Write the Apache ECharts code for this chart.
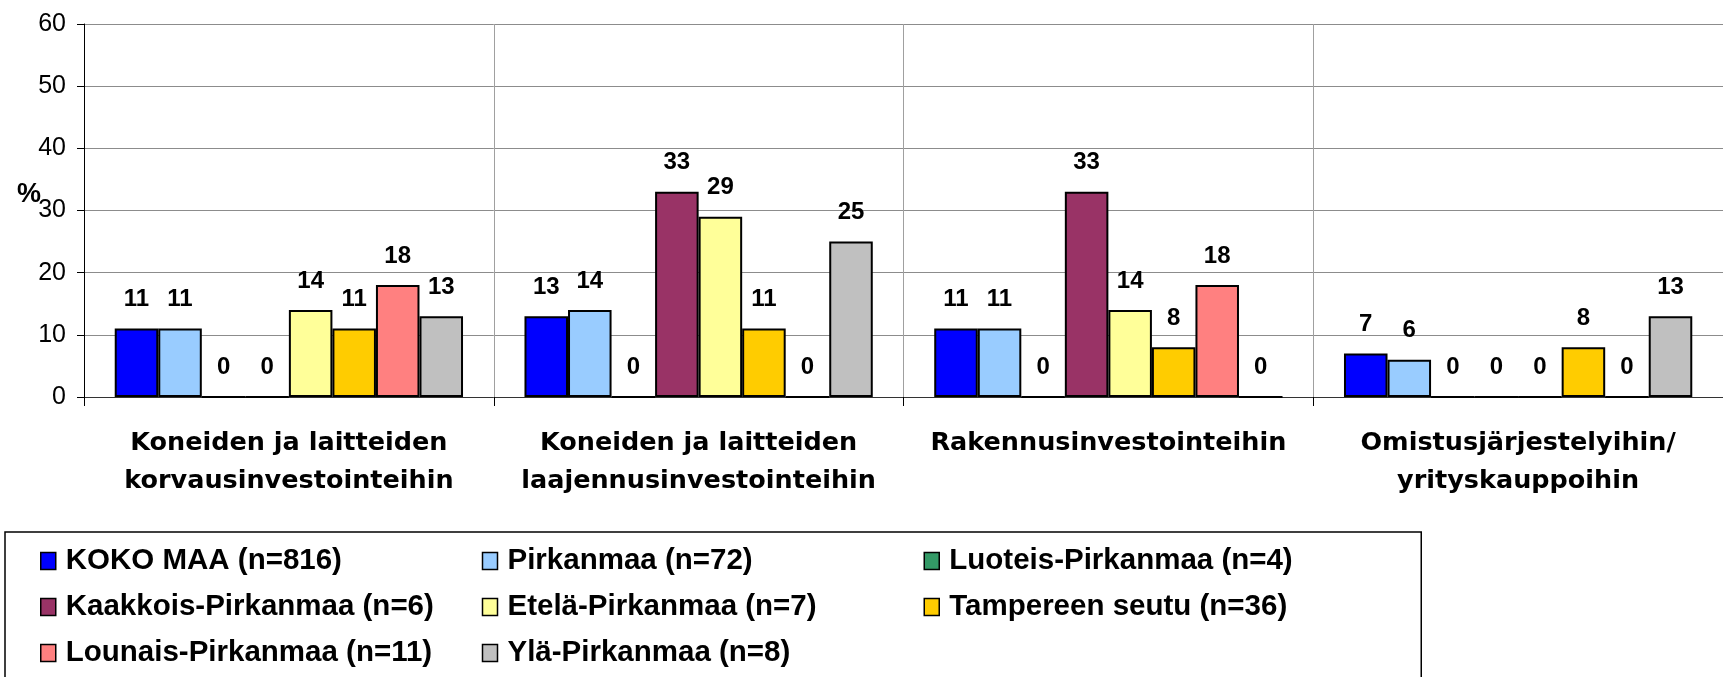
<!DOCTYPE html>
<html>
<head>
<meta charset="utf-8">
<script src="https://cdn.jsdelivr.net/npm/echarts@6/dist/echarts.min.js"></script>
<style>
html,body{margin:0;padding:0;background:#fff;}
#chart{width:1723px;height:677px;}
</style>
</head>
<body>
<div id="chart"></div>
<script>
const categories = [
  "Koneiden ja laitteiden\nkorvausinvestointeihin",
  "Koneiden ja laitteiden\nlaajennusinvestointeihin",
  "Rakennusinvestointeihin",
  "Omistusjärjestelyihin/\nyrityskauppoihin"
];
const seriesNames = [
  "KOKO MAA (n=816)", "Pirkanmaa (n=72)", "Luoteis-Pirkanmaa (n=4)",
  "Kaakkois-Pirkanmaa (n=6)", "Etelä-Pirkanmaa (n=7)", "Tampereen seutu (n=36)",
  "Lounais-Pirkanmaa (n=11)", "Ylä-Pirkanmaa (n=8)"
];
const kokoMaa    = [11, 13, 11, 7];
const pirkanmaa  = [11, 14, 11, 6];
const luoteis    = [0, 0, 0, 0];
const kaakkois   = [0, 33, 33, 0];
const etela      = [14, 29, 14, 0];
const tampere    = [11, 11, 8, 8];
const lounais    = [18, 0, 18, 0];
const yla        = [13, 25, 0, 13];
const seriesValues = [kokoMaa, pirkanmaa, luoteis, kaakkois, etela, tampere, lounais, yla];
const colors = ["#0000FF", "#99CCFF", "#339966", "#993366", "#FFFF99", "#FFCC00", "#FF8080", "#C0C0C0"];
const yTicks = { min: 0, max: 60, interval: 10 };

const arial = "'Liberation Sans', Arial, sans-serif";
const chart = echarts.init(document.getElementById('chart'));
chart.setOption({
  animation: false,
  backgroundColor: '#ffffff',
  title: {
    text: '%', left: 12, top: 176,
    textStyle: { fontFamily: arial, fontWeight: 'bold', fontSize: 27, color: '#000' }
  },
  grid: { left: 84, right: -22, top: 24, bottom: 280 },
  legend: {
    left: 5, top: 532, width: 1330,
    padding: [14, 72, 40, 35],
    borderColor: '#000', borderWidth: 1.5,
    itemWidth: 15, itemHeight: 17, itemGap: 16,
    icon: 'rect',
    itemStyle: { borderColor: '#000', borderWidth: 1.5 },
    textStyle: { fontFamily: arial, fontWeight: 'bold', fontSize: 29.5, color: '#000', width: 400, lineHeight: 27, padding: [0, 0, 0, 5] },
    data: seriesNames
  },
  xAxis: {
    type: 'category', data: categories,
    axisLine: { lineStyle: { color: '#333', width: 1 } },
    axisTick: { show: true, length: 9, lineStyle: { color: '#000' } },
    splitLine: { show: true, lineStyle: { color: '#a0a0a0', width: 1 } },
    axisLabel: { interval: 0, margin: 27, fontFamily: "'DejaVu Sans', sans-serif", fontWeight: 'bold', fontSize: 25.5, lineHeight: 38, color: '#000' }
  },
  yAxis: {
    type: 'value', min: yTicks.min, max: yTicks.max, interval: yTicks.interval,
    axisLine: { show: true, lineStyle: { color: '#000', width: 1 } },
    axisTick: { show: true, length: 7, lineStyle: { color: '#000' } },
    splitLine: { show: true, lineStyle: { color: '#8c8c8c', width: 1 } },
    axisLabel: { margin: 18, fontFamily: arial, fontSize: 25, color: '#000' }
  },
  series: seriesNames.map((name, i) => ({
    name: name, type: 'bar', data: seriesValues[i],
    barGap: '0%', barCategoryGap: '15%',
    itemStyle: { color: colors[i], borderColor: '#000', borderWidth: 2 },
    label: { show: true, position: 'top', distance: 17, fontFamily: arial, fontWeight: 'bold', fontSize: 24, color: '#000' }
  }))
});
</script>
</body>
</html>
